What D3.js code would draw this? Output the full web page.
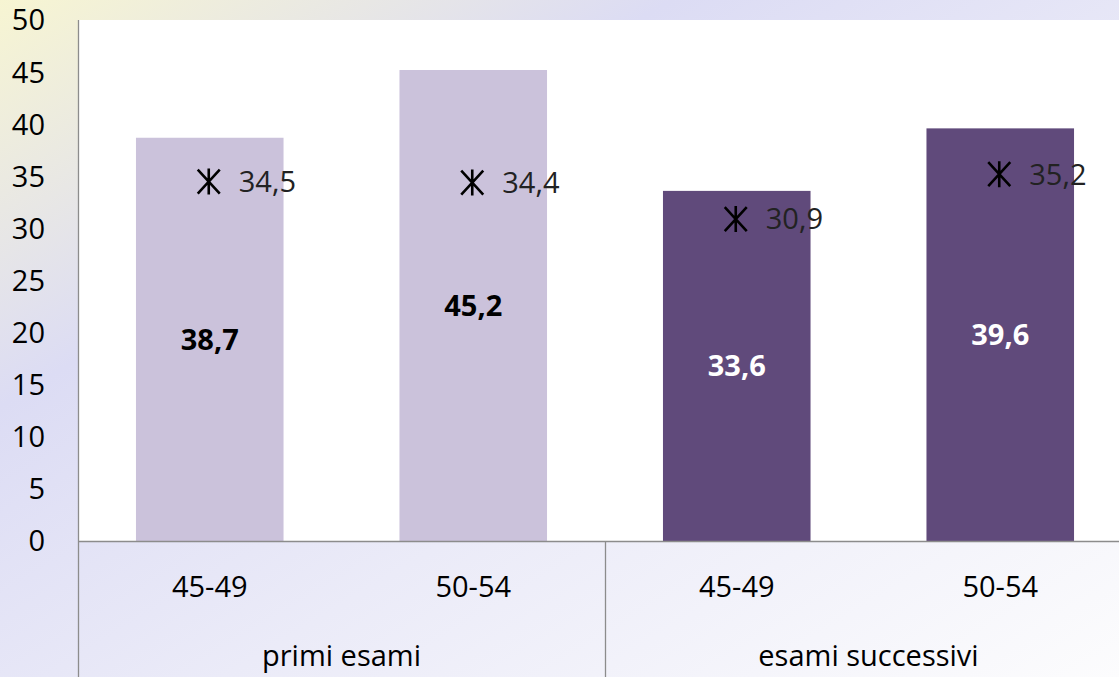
<!DOCTYPE html>
<html><head><meta charset="utf-8">
<script src="https://cdn.jsdelivr.net/npm/d3@7"></script>
<style>body{margin:0;overflow:hidden}svg{display:block}</style>
</head><body>
<script>
const groups = ["primi esami", "esami successivi"];
const ageBands = ["45-49", "50-54", "45-49", "50-54"];
const barValues = [38.7, 45.2, 33.6, 39.6];
const markerValues = [34.5, 34.4, 30.9, 35.2];
const barGroup = [0, 0, 1, 1];
const yTicks = [0, 5, 10, 15, 20, 25, 30, 35, 40, 45, 50];

(function () {
const W = 1119, H = 677;
const plotLeft = 78, plotTop = 20, zeroY = 541, bandW = 263.5;
const font = "'Open Sans', 'Noto Sans', sans-serif";
const fs = 29;

const svg = d3.select("body").append("svg").attr("width", W).attr("height", H);
const defs = svg.append("defs");
const bg = defs.append("linearGradient").attr("id", "bg")
  .attr("x1", 0).attr("y1", 0).attr("x2", 1).attr("y2", 1);
bg.append("stop").attr("offset", "0%").attr("stop-color", "#f7f5d2");
bg.append("stop").attr("offset", "30%").attr("stop-color", "#dcdcf4");
bg.append("stop").attr("offset", "60%").attr("stop-color", "#ebebf8");
bg.append("stop").attr("offset", "100%").attr("stop-color", "#fcfcfd");
svg.append("rect").attr("width", W).attr("height", H).attr("fill", "url(#bg)");

const idx = d3.range(barValues.length);
const x = d3.scaleBand().domain(idx).range([plotLeft, plotLeft + bandW * idx.length]).paddingInner(0.44).paddingOuter(0.22);
const y = d3.scaleLinear().domain([0, 50]).range([zeroY, plotTop]);

svg.append("rect").attr("x", plotLeft).attr("y", plotTop).attr("width", W - plotLeft).attr("height", zeroY - plotTop).attr("fill", "#ffffff");

const fills = ["#cbc2db", "#604a7b"];
svg.selectAll("rect.bar").data(idx).join("rect").attr("class", "bar")
  .attr("x", i => x(i)).attr("width", x.bandwidth())
  .attr("y", i => y(barValues[i])).attr("height", i => y(0) - y(barValues[i]))
  .attr("fill", i => fills[barGroup[i]]);

svg.selectAll("text.bv").data(idx).join("text").attr("class", "bv")
  .attr("x", i => x(i) + x.bandwidth() / 2)
  .attr("y", i => y(barValues[i] / 2))
  .attr("dy", "0.35em").attr("text-anchor", "middle")
  .attr("font-family", font).attr("font-weight", "bold").attr("font-size", fs)
  .attr("fill", i => barGroup[i] === 0 ? "#000" : "#fff")
  .text(i => d3.format(".1f")(barValues[i]).replace(".", ","));

const mk = svg.selectAll("g.mk").data(idx).join("g").attr("class", "mk")
  .attr("transform", i => `translate(${x(i) + x.bandwidth() / 2 - 1},${y(markerValues[i])})`);
mk.append("path").attr("d", "M-11,-12L11,12M-11,12L11,-12M0,-13V13")
  .attr("stroke", "#000").attr("stroke-width", 2.6).attr("fill", "none");
svg.selectAll("text.mv").data(idx).join("text").attr("class", "mv")
  .attr("x", i => x(i) + x.bandwidth() / 2 + 29)
  .attr("y", i => y(markerValues[i]))
  .attr("dy", "0.36em")
  .attr("font-family", font).attr("font-size", fs).attr("fill", "#222")
  .text(i => d3.format(".1f")(markerValues[i]).replace(".", ","));

svg.selectAll("text.yt").data(yTicks).join("text").attr("class", "yt")
  .attr("x", 45).attr("y", d => y(d)).attr("dy", "0.36em").attr("text-anchor", "end")
  .attr("font-family", font).attr("font-size", fs).attr("fill", "#000")
  .text(d => d);

svg.append("line").attr("x1", plotLeft + 0.5).attr("x2", plotLeft + 0.5).attr("y1", plotTop).attr("y2", H)
  .attr("stroke", "#8c8c8c").attr("stroke-width", 1.3);
svg.append("line").attr("x1", plotLeft).attr("x2", W).attr("y1", zeroY + 0.5).attr("y2", zeroY + 0.5)
  .attr("stroke", "#8c8c8c").attr("stroke-width", 1.3);
const sepX = plotLeft + bandW * 2;
svg.append("line").attr("x1", sepX + 0.5).attr("x2", sepX + 0.5).attr("y1", zeroY).attr("y2", H)
  .attr("stroke", "#8c8c8c").attr("stroke-width", 1.3);

svg.selectAll("text.cat").data(idx).join("text").attr("class", "cat")
  .attr("x", i => x(i) + x.bandwidth() / 2).attr("y", 587).attr("dy", "0.36em")
  .attr("text-anchor", "middle").attr("font-family", font).attr("font-size", fs).attr("fill", "#000")
  .text(i => ageBands[i]);
svg.selectAll("text.grp").data(groups).join("text").attr("class", "grp")
  .attr("x", (d, g) => plotLeft + bandW * (2 * g + 1)).attr("y", 656).attr("dy", "0.36em")
  .attr("text-anchor", "middle").attr("font-family", font).attr("font-size", fs).attr("fill", "#000")
  .text(d => d);
})();
</script>
</body></html>
